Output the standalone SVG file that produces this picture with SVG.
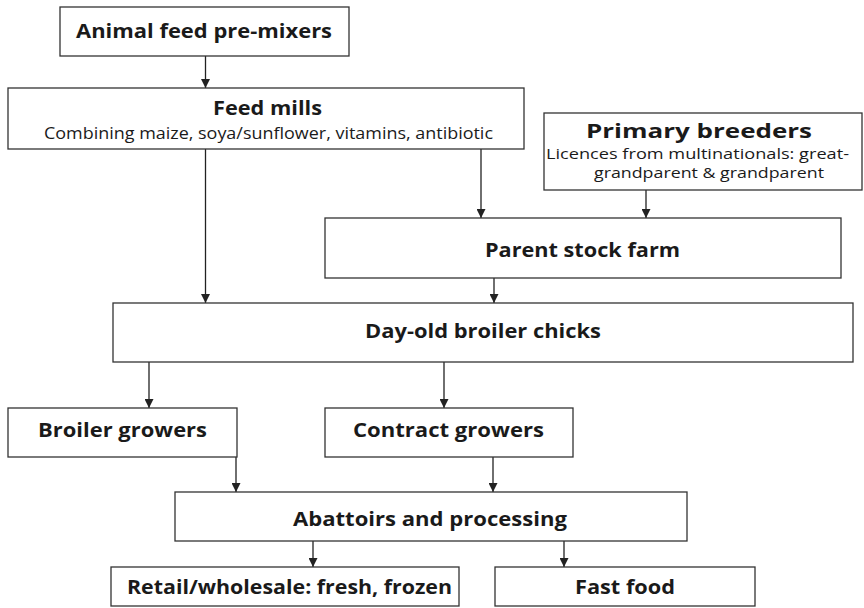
<svg xmlns="http://www.w3.org/2000/svg" width="864" height="608" viewBox="0 0 864 608">
<defs>
<marker id="ah" viewBox="0 0 10 10" refX="10" refY="5" markerWidth="10" markerHeight="9" markerUnits="userSpaceOnUse" orient="auto">
<path d="M0,0 L10,5 L0,10 Z" fill="#222"/>
</marker>
<style>
.box{fill:#fff;stroke:#333;stroke-width:1.3}
.t{font-family:"Open Sans","Liberation Sans",sans-serif;font-weight:700;font-size:19px;fill:#1a1a1a;text-anchor:middle}
.s{font-family:"Open Sans","Liberation Sans",sans-serif;font-weight:400;font-size:16px;fill:#1a1a1a;text-anchor:middle}
.c{stroke:#222;stroke-width:1.3;fill:none;marker-end:url(#ah)}
</style>
</defs>
<rect width="864" height="608" fill="#fff"/>
<g id="connectors">
<line class="c" x1="205.5" y1="56" x2="205.5" y2="88"/>
<line class="c" x1="205.5" y1="149" x2="205.5" y2="303"/>
<line class="c" x1="481" y1="149" x2="481" y2="218"/>
<line class="c" x1="646" y1="190" x2="646" y2="218"/>
<line class="c" x1="494" y1="278" x2="494" y2="303"/>
<line class="c" x1="149" y1="362" x2="149" y2="408"/>
<line class="c" x1="444" y1="362" x2="444" y2="408"/>
<line class="c" x1="236" y1="457" x2="236" y2="492"/>
<line class="c" x1="493" y1="457" x2="493" y2="492"/>
<line class="c" x1="313" y1="541" x2="313" y2="567"/>
<line class="c" x1="564" y1="541" x2="564" y2="567"/>
</g>
<g id="premixers">
<rect class="box" x="60" y="7" width="289" height="49"/>
<text class="t" x="204" y="38" textLength="256" lengthAdjust="spacingAndGlyphs">Animal feed pre-mixers</text>
</g>
<g id="feedmills">
<rect class="box" x="8" y="88" width="516" height="61"/>
<text class="t" x="267.5" y="115" textLength="109" lengthAdjust="spacingAndGlyphs">Feed mills</text>
<text class="s" x="268.5" y="139" textLength="449" lengthAdjust="spacingAndGlyphs">Combining maize, soya/sunflower, vitamins, antibiotic</text>
</g>
<g id="primarybreeders">
<rect class="box" x="544" y="113" width="318" height="77"/>
<text class="t" x="699" y="138" textLength="226" lengthAdjust="spacingAndGlyphs">Primary breeders</text>
<text class="s" x="697.5" y="159" textLength="303" lengthAdjust="spacingAndGlyphs" style="font-size:14px">Licences from multinationals: great-</text>
<text class="s" x="709" y="178" textLength="230" lengthAdjust="spacingAndGlyphs" style="font-size:14px">grandparent &amp; grandparent</text>
</g>
<g id="parentstock">
<rect class="box" x="325" y="218" width="516" height="60"/>
<text class="t" x="582.5" y="257" textLength="195" lengthAdjust="spacingAndGlyphs">Parent stock farm</text>
</g>
<g id="dayold">
<rect class="box" x="113" y="303" width="740" height="59"/>
<text class="t" x="483" y="338" textLength="236" lengthAdjust="spacingAndGlyphs">Day-old broiler chicks</text>
</g>
<g id="broilergrowers">
<rect class="box" x="8" y="408" width="229" height="49"/>
<text class="t" x="122.5" y="437" textLength="169" lengthAdjust="spacingAndGlyphs">Broiler growers</text>
</g>
<g id="contractgrowers">
<rect class="box" x="325" y="408" width="248" height="49"/>
<text class="t" x="448.5" y="437" textLength="191" lengthAdjust="spacingAndGlyphs">Contract growers</text>
</g>
<g id="abattoirs">
<rect class="box" x="175" y="492" width="512" height="49"/>
<text class="t" x="430" y="526" textLength="274" lengthAdjust="spacingAndGlyphs">Abattoirs and processing</text>
</g>
<g id="retail">
<rect class="box" x="111" y="567" width="348" height="39"/>
<text class="t" x="289.5" y="594" textLength="325" lengthAdjust="spacingAndGlyphs">Retail/wholesale: fresh, frozen</text>
</g>
<g id="fastfood">
<rect class="box" x="495" y="567" width="260" height="39"/>
<text class="t" x="625" y="594" textLength="100" lengthAdjust="spacingAndGlyphs">Fast food</text>
</g>
</svg>
